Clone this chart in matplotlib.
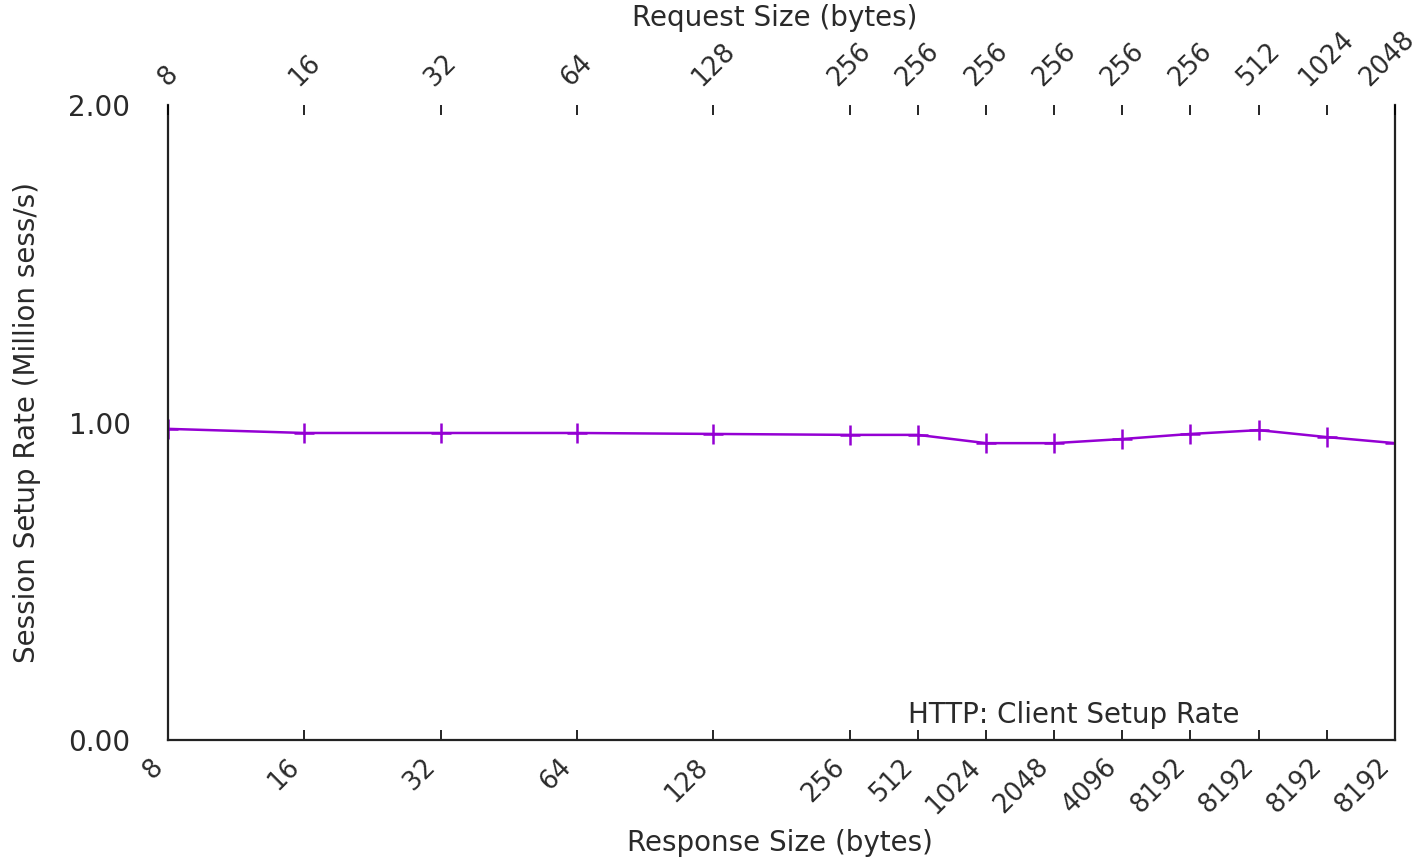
import numpy as np
import matplotlib.pyplot as plt
from matplotlib.transforms import ScaledTranslation

# Test points: request / response sizes and measured setup rate
request_size = [8, 16, 32, 64, 128, 256, 256, 256, 256, 256, 256, 512, 1024, 2048]
response_size = [8, 16, 32, 64, 128, 256, 512, 1024, 2048, 4096, 8192, 8192, 8192, 8192]
setup_rate = [0.980, 0.967, 0.967, 0.967, 0.964, 0.961, 0.961, 0.935, 0.935,
              0.948, 0.964, 0.976, 0.954, 0.935]

# x position = log2 of the geometric mean of request and response size
x = (np.log2(request_size) + np.log2(response_size)) / 2

txt = '#2a2a2a'
fs = 20
tfs = 18.5

fig = plt.figure(figsize=(14.22, 8.61), dpi=100)
L, R, T, B = 168, 1395, 105, 740
ax = fig.add_axes([L / 1422, 1 - B / 861, (R - L) / 1422, (B - T) / 861])

ax.plot(x, setup_rate, color='#9400d3', lw=1.8, marker='+', ms=14, mew=1.8)

ax.set_xlim(x[0], x[-1])
ax.set_ylim(0, 2)
ax.set_yticks([0, 1, 2])
ax.set_yticklabels(['%.2f' % v for v in [0, 1, 2]])
ax.set_xticks(x)
ax.set_xticklabels([str(v) for v in response_size], rotation=45, ha='right', va='top')
ax.tick_params(axis='both', direction='in', labelsize=tfs, labelcolor=txt)
ax.tick_params(axis='y', labelsize=fs)
ax.tick_params(axis='x', length=7, width=1.2, pad=10)
ax.tick_params(axis='y', length=0, pad=27)
ax.spines['top'].set_visible(False)
for s in ['left', 'right', 'bottom']:
    ax.spines[s].set_linewidth(1.6)
    ax.spines[s].set_color('#222222')

ax.set_xlabel('Response Size (bytes)', fontsize=fs, color=txt, va='center')
ax.xaxis.set_label_coords((780 - L) / (R - L), (B - 843) / (B - T))
ax.set_ylabel('Session Setup Rate (Million sess/s)', fontsize=fs, color=txt, va='center')
ax.yaxis.set_label_coords((27 - L) / (R - L), 0.5)

ax2 = ax.twiny()
ax2.set_xlim(ax.get_xlim())
ax2.set_xticks(x)
ax2.set_xticklabels([str(v) for v in request_size], rotation=45, ha='center', va='bottom')
ax2.tick_params(axis='x', direction='in', length=7, width=1.2,
                labelsize=tfs, labelcolor=txt, pad=10)
for s in ax2.spines.values():
    s.set_visible(False)
ax2.set_xlabel('Request Size (bytes)', fontsize=fs, color=txt, va='center')
ax2.xaxis.set_label_coords((775 - L) / (R - L), (B - 18) / (B - T))

# nudge the last top label so it stays inside the figure
last = ax2.get_xticklabels()[-1]
last.set_transform(last.get_transform() + ScaledTranslation(-0.08, 0, fig.dpi_scale_trans))

ax.text((1240 - L) / (R - L), (B - 715) / (B - T), 'HTTP: Client Setup Rate',
        transform=ax.transAxes, fontsize=fs, color=txt, ha='right', va='center')

fig.savefig('out.png', dpi=100)
